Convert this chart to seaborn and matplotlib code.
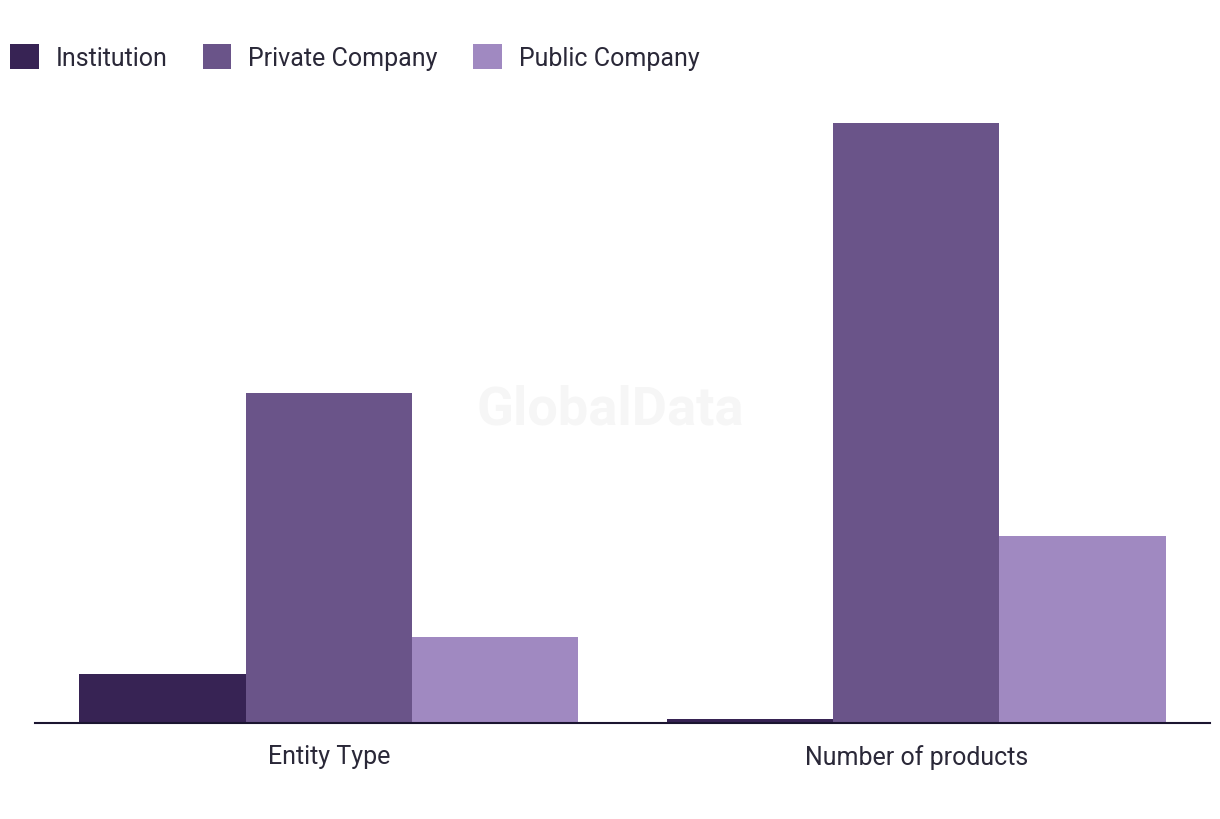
import pandas as pd
import matplotlib.pyplot as plt
import seaborn as sns

categories = ['Entity Type', 'Number of products']
series = ['Institution', 'Private Company', 'Public Company']
institution = [4, 0.3]
private_company = [27, 49]
public_company = [7, 15.3]

colors = ['#372354', '#6a5489', '#a089c1']

df = pd.DataFrame({
    'category': categories * 3,
    'series': [s for s in series for _ in categories],
    'value': institution + private_company + public_company,
})

sns.set_style('white')
plt.rcParams['font.family'] = ['Roboto', 'DejaVu Sans']

fig = plt.figure(figsize=(12.2, 8.2), dpi=100)
ax = fig.add_axes([35 / 1220, 96 / 820, 1175 / 1220, 624 / 820])

sns.barplot(data=df, x='category', y='value', hue='series', hue_order=series,
            palette=colors, width=0.85, gap=0, saturation=1, linewidth=0, ax=ax)

ax.set_xlim(-0.5, 1.5)
ax.set_ylim(0, 51)
ax.set_xlabel('')
ax.set_ylabel('')
ax.set_yticks([])
for side in ['top', 'right', 'left']:
    ax.spines[side].set_visible(False)
ax.spines['bottom'].set_color('#1b1530')
ax.spines['bottom'].set_linewidth(1.5)
ax.tick_params(axis='x', length=0, pad=15, labelsize=18, labelcolor='#2a2838')

# watermark
fig.text(610 / 1220, 1 - 410 / 820, 'GlobalData', fontsize=39, fontweight='bold',
         color='#f6f6f6', ha='center', va='center', zorder=0)

handles, labels = ax.get_legend_handles_labels()
ax.get_legend().remove()
fig.legend(handles, labels, loc='upper left', bbox_to_anchor=(10 / 1220, 1 - 45 / 820),
           ncol=3, frameon=False, fontsize=18, handlelength=1.15, handleheight=1.15,
           handletextpad=0.68, columnspacing=1.4, borderpad=0, borderaxespad=0,
           labelcolor='#2a2838')

fig.savefig('out.png', dpi=100)
